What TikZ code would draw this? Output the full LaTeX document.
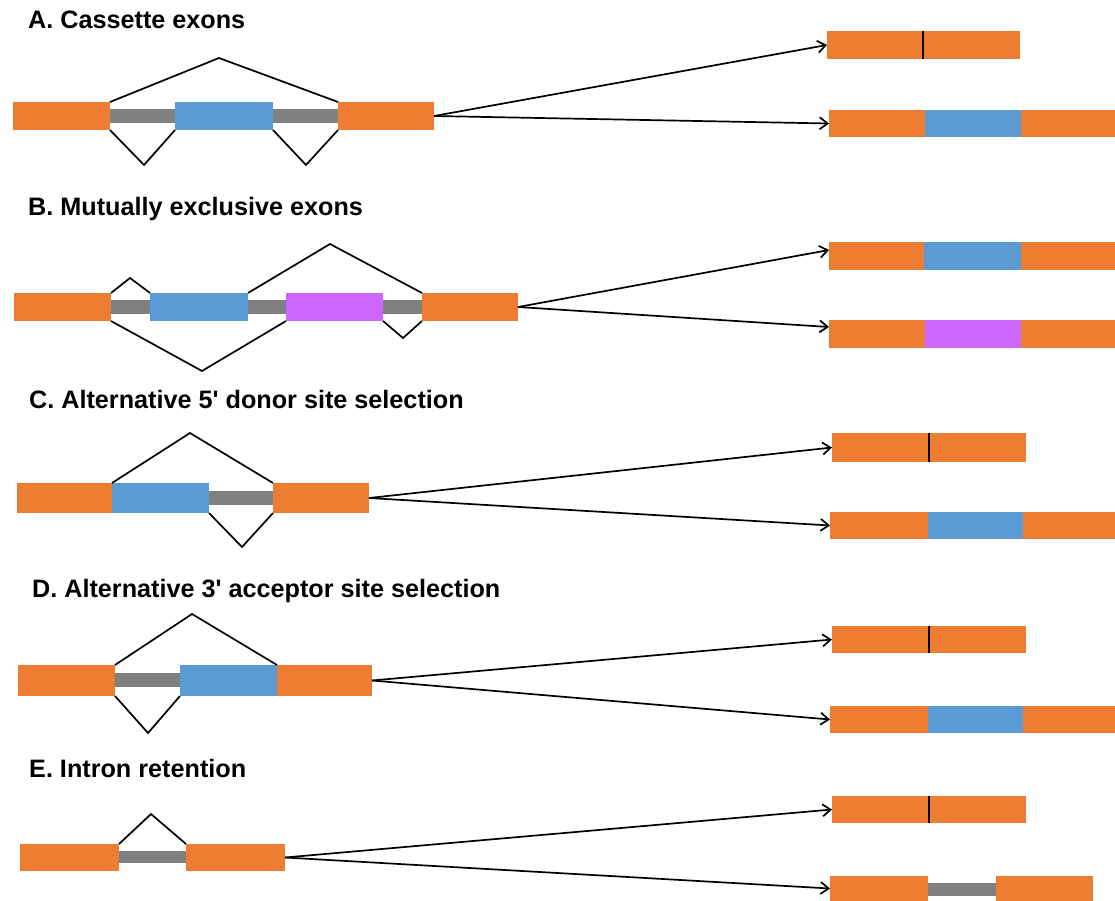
\documentclass[tikz,border=0pt]{standalone}
\usepackage{fontspec}
\setmainfont{Liberation Sans}
\usetikzlibrary{arrows.meta,calc}
\definecolor{exorange}{HTML}{ED7D31}
\definecolor{exblue}{HTML}{5B9BD5}
\definecolor{exgray}{HTML}{808080}
\definecolor{exmagenta}{HTML}{CC66FF}
\newcommand\exon[6]{\node[exon,fill=#2,minimum width={#5-#3},minimum height={#6-#4},anchor=north west] (#1) at (#3,#4) {};}
\begin{document}
\begin{tikzpicture}[x=1pt,y=-1pt,
  exon/.style={rectangle,draw=none,inner sep=0pt,outer sep=0pt},
  splice/.style={draw=black,line width=1.7pt,line join=miter},
  product/.style={draw=black,line width=1.7pt,-{Straight Barb[length=8pt,width=12pt,line width=1.7pt]}},
  junction/.style={draw=black,line width=1.7pt},
  title/.style={anchor=base west,inner sep=0pt,font=\bfseries\fontsize{25.2}{30}\selectfont}]
\useasboundingbox (0,0) rectangle (1115,901);

% ---------- titles
\node[title] (tA) at (28,29) {A. Cassette exons};
\node[title] (tB) at (28,216) {B. Mutually exclusive exons};
\node[title] (tC) at (29,408) {C. Alternative 5\textquotesingle{} donor site selection};
\node[title] (tD) at (32,597) {D. Alternative 3\textquotesingle{} acceptor site selection};
\node[title] (tE) at (29,777) {E. Intron retention};

% ---------- A
\exon{ai1}{exgray}{110}{109}{176}{123}
\exon{ai2}{exgray}{272}{109}{339}{123}
\exon{a1}{exorange}{13}{102}{110}{130}
\exon{a2}{exblue}{175}{102}{273}{130}
\exon{a3}{exorange}{338}{102}{434}{130}
\coordinate (pA) at (219,58);
\coordinate (vA1) at (144,165);
\coordinate (vA2) at (306,165);
\draw[splice] (a1.north east) -- (pA) -- (a3.north west);
\draw[splice] (a1.south east) -- (vA1) -- (a2.south west);
\draw[splice] (a2.south east) -- (vA2) -- (a3.south west);
\exon{ra1a}{exorange}{827}{31}{923}{59}
\exon{ra1b}{exorange}{923}{31}{1020}{59}
\draw[junction] (ra1a.north east) -- (ra1a.south east);
\exon{ra2a}{exorange}{829}{110}{925}{137}
\exon{ra2b}{exblue}{925}{110}{1021}{137}
\exon{ra2c}{exorange}{1021}{110}{1115}{137}
\draw[product] (a3.east) -- (ra1a.west);
\draw[product] (a3.east) -- (ra2a.west);

% ---------- B
\exon{bi1}{exgray}{110}{300}{151}{314}
\exon{bi2}{exgray}{247}{300}{287}{314}
\exon{bi3}{exgray}{382}{300}{423}{314}
\exon{b1}{exorange}{14}{293}{111}{321}
\exon{b2}{exblue}{150}{293}{248}{321}
\exon{b3}{exmagenta}{286}{293}{383}{321}
\exon{b4}{exorange}{422}{293}{518}{321}
\coordinate (pB1) at (130,278);
\coordinate (pB2) at (330,244);
\coordinate (vB1) at (202,371);
\coordinate (vB2) at (403,338);
\draw[splice] (b1.north east) -- (pB1) -- (b2.north west);
\draw[splice] (b2.north east) -- (pB2) -- (b4.north west);
\draw[splice] (b1.south east) -- (vB1) -- (b3.south west);
\draw[splice] (b3.south east) -- (vB2) -- (b4.south west);
\exon{rb1a}{exorange}{829}{242}{924}{270}
\exon{rb1b}{exblue}{924}{242}{1021}{270}
\exon{rb1c}{exorange}{1021}{242}{1115}{270}
\exon{rb2a}{exorange}{829}{320}{925}{348}
\exon{rb2b}{exmagenta}{925}{320}{1021}{348}
\exon{rb2c}{exorange}{1021}{320}{1115}{348}
\draw[product] (b4.east) -- ($(rb1a.west)+(0,-6)$);
\draw[product] (b4.east) -- ($(rb2a.west)+(0,-7)$);

% ---------- C
\exon{ci1}{exgray}{207}{491}{274}{505}
\exon{c1}{exorange}{17}{483}{112}{513}
\exon{c2}{exblue}{112}{483}{209}{513}
\exon{c3}{exorange}{273}{483}{369}{513}
\coordinate (pC) at (190,433);
\coordinate (vC) at (242,547);
\draw[splice] (c2.north west) -- (pC) -- (c3.north west);
\draw[splice] (c2.south east) -- (vC) -- (c3.south west);
\exon{rc1a}{exorange}{832}{433}{929}{462}
\exon{rc1b}{exorange}{929}{433}{1026}{462}
\draw[junction] (rc1a.north east) -- (rc1a.south east);
\exon{rc2a}{exorange}{830}{512}{928}{539}
\exon{rc2b}{exblue}{928}{512}{1023}{539}
\exon{rc2c}{exorange}{1023}{512}{1115}{539}
\draw[product] (c3.east) -- (rc1a.west);
\draw[product] (c3.east) -- (rc2a.west);

% ---------- D
\exon{di1}{exgray}{114}{673}{181}{687}
\exon{d1}{exorange}{18}{665}{115}{696}
\exon{d2}{exblue}{180}{665}{277}{696}
\exon{d3}{exorange}{277}{665}{372}{696}
\coordinate (pD) at (192,614);
\coordinate (vD) at (148,733);
\draw[splice] (d1.north east) -- (pD) -- (d3.north west);
\draw[splice] (d1.south east) -- (vD) -- (d2.south west);
\exon{rd1a}{exorange}{832}{626}{929}{653}
\exon{rd1b}{exorange}{929}{626}{1026}{653}
\draw[junction] (rd1a.north east) -- (rd1a.south east);
\exon{rd2a}{exorange}{830}{706}{928}{733}
\exon{rd2b}{exblue}{928}{706}{1023}{733}
\exon{rd2c}{exorange}{1023}{706}{1115}{733}
\draw[product] (d3.east) -- (rd1a.west);
\draw[product] (d3.east) -- (rd2a.west);

% ---------- E
\exon{ei1}{exgray}{118}{851}{187}{863}
\exon{e1}{exorange}{20}{844}{119}{871}
\exon{e2}{exorange}{186}{844}{285}{871}
\coordinate (pE) at (151,814);
\draw[splice] (e1.north east) -- (pE) -- (e2.north west);
\exon{re1a}{exorange}{832}{796}{929}{823}
\exon{re1b}{exorange}{929}{796}{1026}{823}
\draw[junction] (re1a.north east) -- (re1a.south east);
\exon{rei}{exgray}{927}{883}{997}{896}
\exon{re2a}{exorange}{830}{876}{928}{901}
\exon{re2b}{exorange}{996}{876}{1093}{901}
\draw[product] (e2.east) -- (re1a.west);
\draw[product] (e2.east) -- (re2a.west);
\end{tikzpicture}
\end{document}
